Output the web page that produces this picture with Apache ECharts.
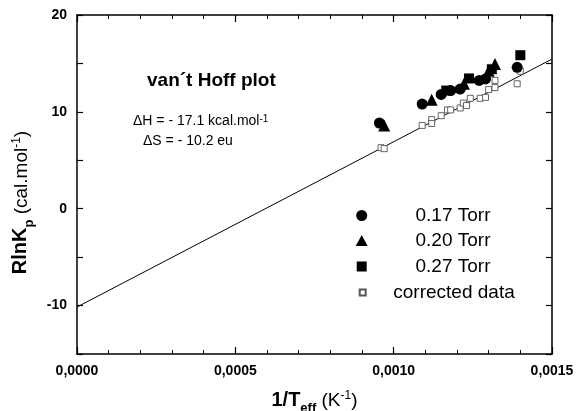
<!DOCTYPE html>
<html>
<head>
<meta charset="utf-8">
<script src="https://cdn.jsdelivr.net/npm/echarts@6/dist/echarts.min.js"></script>
<style>
  html, body { margin: 0; padding: 0; background: #fff; }
  #chart { width: 579px; height: 411px; }
</style>
</head>
<body>
<div id="chart"></div>
<script>
  // 1/T values and RlnKp
  const x017 = [0.000955, 0.00109, 0.00115, 0.00118, 0.00121, 0.00127, 0.00129, 0.00139];
  const y017 = [8.85, 10.8, 11.8, 12.2, 12.35, 13.25, 13.4, 14.6];
  const x020 = [0.00097, 0.00112, 0.001222, 0.0013, 0.00132];
  const y020 = [8.6, 11.25, 12.9, 14.25, 14.95];
  const x027 = [0.001166, 0.001238, 0.00131, 0.0014];
  const y027 = [12.2, 13.45, 14.4, 15.85];
  const xCorr = [0.00096, 0.00097, 0.00109, 0.00112, 0.00112, 0.00115, 0.00117, 0.00118, 0.00121, 0.00122,
    0.00123, 0.001242, 0.001273, 0.00129, 0.0013, 0.00132, 0.00132, 0.00139, 0.0014];
  const yCorr = [6.3, 6.2, 8.6, 9.2, 8.8, 9.6, 10.2, 10.2, 10.4, 10.9,
    10.65, 11.4, 11.4, 11.5, 12.3, 12.5, 13.25, 12.9, 14.2];
  const fitX = [0, 0.0015];
  const fitY = [-10.15, 15.45];
  const seriesNames = ['0.17 Torr', '0.20 Torr', '0.27 Torr', 'corrected data'];

  const pairs = (xs, ys) => xs.map((x, i) => [x, ys[i]]);
  const font = 'Liberation Sans';

  const chart = echarts.init(document.getElementById('chart'));

  // one legend per entry so the icon sizes can differ
  const legendTop = [216, 241, 267, 293];
  const iconSize = [[11, 11], [12, 11], [10, 10], [6, 6]];
  const legends = seriesNames.map((name, i) => {
    const w = iconSize[i][0];
    const left = 361.7 - w / 2;
    const boxW = 2 * (453 - (left + w + 5));
    return {
      data: [name],
      left: left,
      top: legendTop[i] - 10,
      padding: 0,
      itemWidth: w,
      itemHeight: iconSize[i][1],
      itemGap: 5,
      selectedMode: false,
      formatter: (n) => '{t|' + n + '}',
      textStyle: {
        rich: {
          t: { width: boxW, align: 'center', fontSize: 19, color: '#000', fontFamily: font, lineHeight: 20 },
        },
      },
    };
  });

  const nameRich = {
    b: { fontSize: 20, fontWeight: 'bold', color: '#000', fontFamily: font, verticalAlign: 'bottom' },
    sub: { fontSize: 13, fontWeight: 'bold', color: '#000', fontFamily: font, verticalAlign: 'bottom', padding: [0, 0, -5, 0] },
    n: { fontSize: 19, color: '#000', fontFamily: font, verticalAlign: 'bottom' },
    sup: { fontSize: 12, color: '#000', fontFamily: font, verticalAlign: 'top' },
  };

  const option = {
    backgroundColor: '#fff',
    animation: false,
    grid: { left: 77, right: 27, top: 15, bottom: 57, outerBoundsMode: 'none', containLabel: false },
    legend: legends,
    xAxis: [
      {
        type: 'value',
        min: 0,
        max: 0.0015,
        interval: 0.0005,
        axisLine: { onZero: false, lineStyle: { color: '#000', width: 1.5 } },
        axisTick: { inside: true, length: 7, lineStyle: { color: '#000', width: 1.2 } },
        minorTick: { show: true, splitNumber: 5, length: 4, lineStyle: { color: '#000', width: 1 } },
        splitLine: { show: false },
        axisLabel: {
          margin: 10,
          color: '#000',
          fontWeight: 'bold',
          fontSize: 14,
          fontFamily: font,
          formatter: (v) => v.toFixed(4).replace('.', ','),
        },
        name: '{b|1/T}{sub|eff}{n| (K}{sup|-1}{n|)}',
        nameLocation: 'middle',
        nameGap: 36,
        nameTextStyle: { rich: nameRich },
      },
      {
        type: 'value',
        position: 'top',
        min: 0,
        max: 0.0015,
        interval: 0.0005,
        axisLine: { onZero: false, lineStyle: { color: '#000', width: 1.5 } },
        axisTick: { inside: true, length: 7, lineStyle: { color: '#000', width: 1.2 } },
        minorTick: { show: true, splitNumber: 5, length: 4, lineStyle: { color: '#000', width: 1 } },
        splitLine: { show: false },
        axisLabel: { show: false },
      },
    ],
    yAxis: [
      {
        type: 'value',
        min: -15,
        max: 20,
        interval: 5,
        axisLine: { onZero: false, lineStyle: { color: '#000', width: 1.5 } },
        axisTick: { inside: true, length: 6, lineStyle: { color: '#000', width: 1.2 } },
        splitLine: { show: false },
        axisLabel: {
          margin: 10,
          color: '#000',
          fontWeight: 'bold',
          fontSize: 14,
          fontFamily: font,
          formatter: (v) => (v % 10 === 0 ? String(v) : ''),
        },
        name: '{b|RlnK}{sub|p}{n| (cal.mol}{sup|-1}{n|)}',
        nameLocation: 'middle',
        nameGap: 46,
        nameTextStyle: { rich: nameRich, padding: [0, 36, 0, 0] },
      },
      {
        type: 'value',
        position: 'right',
        min: -15,
        max: 20,
        interval: 5,
        axisLine: { onZero: false, lineStyle: { color: '#000', width: 1.5 } },
        axisTick: { inside: true, length: 6, lineStyle: { color: '#000', width: 1.2 } },
        splitLine: { show: false },
        axisLabel: { show: false },
      },
    ],
    graphic: [
      {
        type: 'text',
        left: 147,
        top: 71,
        style: { text: 'van´t Hoff plot', font: 'bold 19px "Liberation Sans"', fill: '#000' },
      },
      {
        type: 'text',
        left: 133,
        top: 114,
        style: {
          text: '{n|ΔH = - 17.1 kcal.mol}{s|-1}',
          rich: {
            n: { fontSize: 14, fontFamily: font, fill: '#000', verticalAlign: 'bottom' },
            s: { fontSize: 10, fontFamily: font, fill: '#000', verticalAlign: 'top' },
          },
        },
      },
      {
        type: 'text',
        left: 143,
        top: 134,
        style: { text: 'ΔS = - 10.2 eu', font: '14px "Liberation Sans"', fill: '#000' },
      },
    ],
    series: [
      {
        name: 'fit',
        type: 'line',
        data: pairs(fitX, fitY),
        showSymbol: false,
        lineStyle: { color: '#000', width: 1 },
        z: 1,
      },
      {
        name: seriesNames[0],
        type: 'scatter',
        symbol: 'circle',
        symbolSize: 11,
        itemStyle: { color: '#000', opacity: 1 },
        data: pairs(x017, y017),
        z: 3,
      },
      {
        name: seriesNames[1],
        type: 'scatter',
        symbol: 'triangle',
        symbolSize: 12,
        itemStyle: { color: '#000', opacity: 1 },
        data: pairs(x020, y020),
        z: 3,
      },
      {
        name: seriesNames[2],
        type: 'scatter',
        symbol: 'rect',
        symbolSize: 10,
        itemStyle: { color: '#000', opacity: 1 },
        data: pairs(x027, y027),
        z: 3,
      },
      {
        name: seriesNames[3],
        type: 'scatter',
        symbol: 'rect',
        symbolSize: 6,
        itemStyle: { color: '#fff', borderColor: '#555', borderWidth: 0.9, opacity: 1 },
        data: pairs(xCorr, yCorr),
        z: 2,
      },
    ],
  };

  chart.setOption(option);
</script>
</body>
</html>
